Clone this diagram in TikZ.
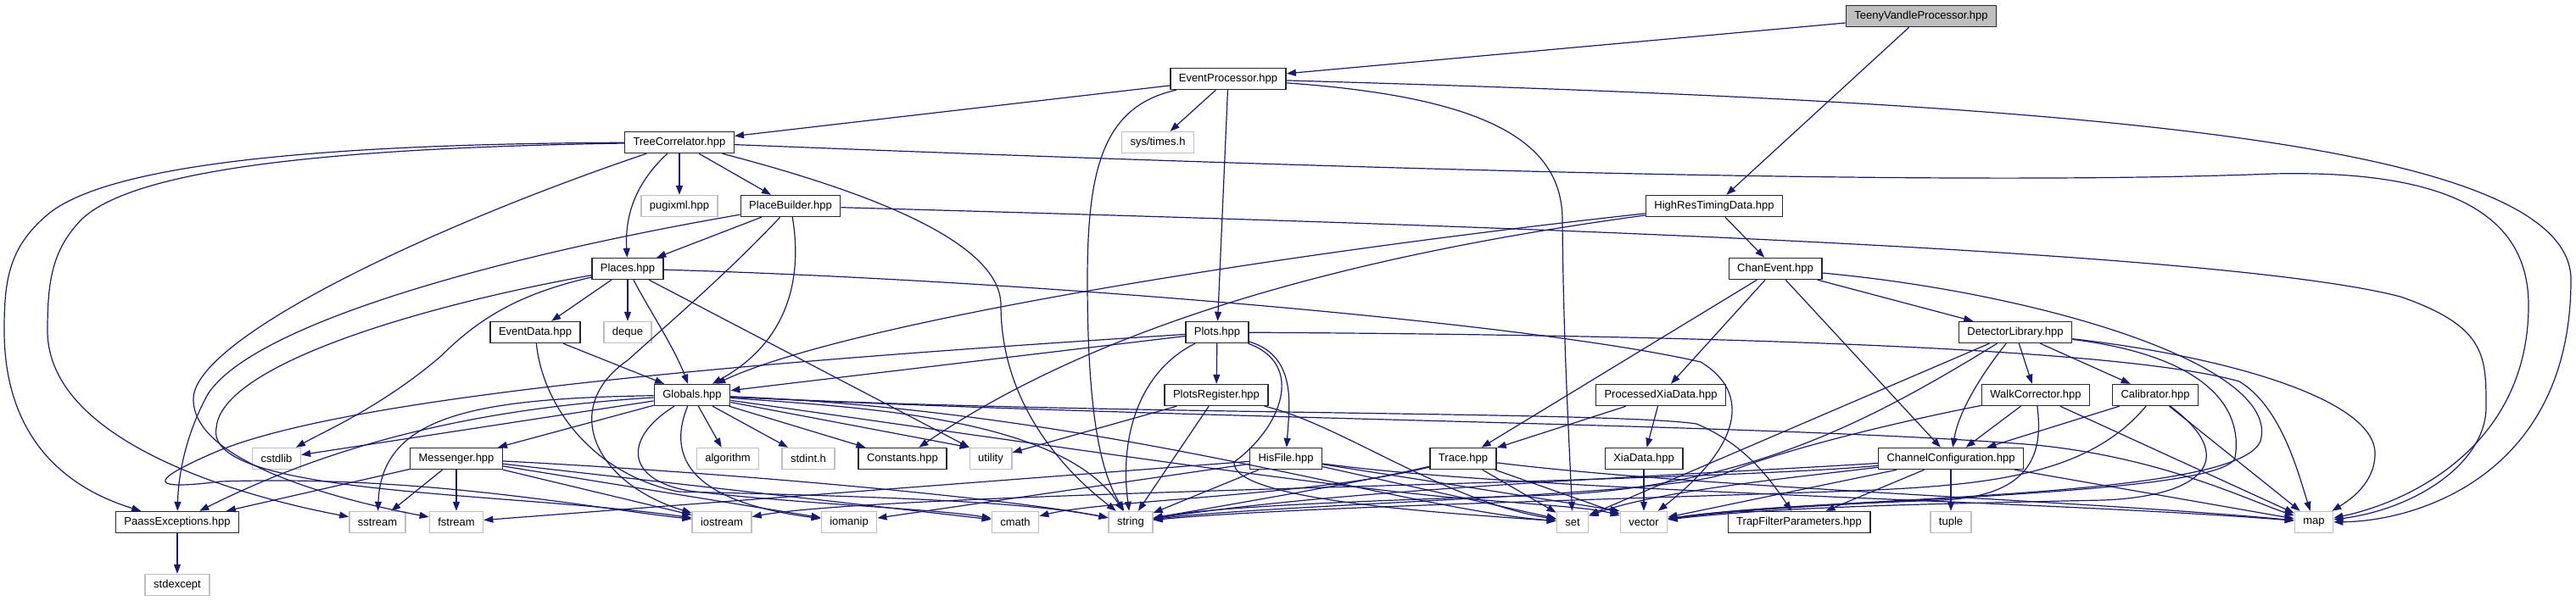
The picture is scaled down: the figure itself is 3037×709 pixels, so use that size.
\documentclass[tikz,border=0pt]{standalone}
\usepackage{fontspec}
\setmainfont{Liberation Sans}
\usetikzlibrary{arrows.meta}
\definecolor{doxBlue}{RGB}{25,25,112}
\definecolor{doxGrey}{RGB}{191,191,191}
\definecolor{doxDark}{RGB}{40,40,40}

\begin{document}
\begin{tikzpicture}[
    x=1pt, y=-1pt,
    hdr/.style={rectangle, draw=doxDark, fill=white, line width=1.4pt,
                minimum height=25pt, inner xsep=10pt, inner ysep=0pt,
                font={\fontsize{13}{15}\selectfont}},
    syshdr/.style={hdr, draw=doxGrey},
    mainhdr/.style={hdr, fill=doxGrey},
    dep/.style={-{Triangle[length=11pt, width=8pt]}, doxBlue, line width=1.2pt}
  ]
  \useasboundingbox (0,0) rectangle (3037,709);

  % headers, one row per include depth
  \node[mainhdr] (teeny)    at (2265,19)  {TeenyVandleProcessor.hpp};
  \node[hdr]     (evproc)   at (1448,93)  {EventProcessor.hpp};
  \node[hdr]     (treecorr) at (801,168)  {TreeCorrelator.hpp};
  \node[syshdr]  (systimes) at (1365,168) {sys/times.h};
  \node[syshdr]  (pugixml)  at (801,243)  {pugixml.hpp};
  \node[hdr]     (placebld) at (932,243)  {PlaceBuilder.hpp};
  \node[hdr]     (hrtd)     at (2021,243) {HighResTimingData.hpp};
  \node[hdr]     (places)   at (740,317)  {Places.hpp};
  \node[hdr]     (chanev)   at (2093,317) {ChanEvent.hpp};
  \node[hdr]     (evdata)   at (631,392)  {EventData.hpp};
  \node[syshdr]  (deque)    at (740,392)  {deque};
  \node[hdr]     (plots)    at (1435,392) {Plots.hpp};
  \node[hdr]     (detlib)   at (2376,392) {DetectorLibrary.hpp};
  \node[hdr]     (globals)  at (816,466)  {Globals.hpp};
  \node[hdr]     (plotsreg) at (1434,466) {PlotsRegister.hpp};
  \node[hdr]     (procxia)  at (1958,466) {ProcessedXiaData.hpp};
  \node[hdr]     (walkcorr) at (2400,466) {WalkCorrector.hpp};
  \node[hdr]     (calib)    at (2541,466) {Calibrator.hpp};
  \node[syshdr]  (cstdlib)  at (326,541)  {cstdlib};
  \node[hdr]     (messenger) at (538,541) {Messenger.hpp};
  \node[syshdr]  (algorithm) at (858,541) {algorithm};
  \node[syshdr]  (stdint)   at (953,541)  {stdint.h};
  \node[hdr]     (constants) at (1064,541) {Constants.hpp};
  \node[syshdr]  (utility)  at (1168,541) {utility};
  \node[hdr]     (hisfile)  at (1516,541) {HisFile.hpp};
  \node[hdr]     (trace)    at (1725,541) {Trace.hpp};
  \node[hdr]     (xiadata)  at (1938,541) {XiaData.hpp};
  \node[hdr]     (chanconf) at (2300,541) {ChannelConfiguration.hpp};
  \node[hdr]     (paassexc) at (209,616)  {PaassExceptions.hpp};
  \node[syshdr]  (sstream)  at (445,616)  {sstream};
  \node[syshdr]  (fstream)  at (538,616)  {fstream};
  \node[syshdr]  (iostream) at (851,616)  {iostream};
  \node[syshdr]  (iomanip)  at (1001,616) {iomanip};
  \node[syshdr]  (cmath)    at (1197,616) {cmath};
  \node[syshdr]  (string)   at (1333,616) {string};
  \node[syshdr]  (set)      at (1854,616) {set};
  \node[syshdr]  (vector)   at (1938,616) {vector};
  \node[hdr]     (trapfilt) at (2121,616) {TrapFilterParameters.hpp};
  \node[syshdr]  (tuple)    at (2300,616) {tuple};
  \node[syshdr]  (map)      at (2728,616) {map};
  \node[syshdr]  (stdexcept) at (209,690) {stdexcept};

  % TeenyVandleProcessor
  \draw[dep] (teeny) -- (evproc);
  \draw[dep] (teeny) -- (hrtd);

  % EventProcessor
  \draw[dep] (evproc) -- (treecorr);
  \draw[dep] (evproc) -- (systimes);
  \draw[dep] (evproc) -- (plots);
  \draw[dep] (evproc) .. controls (1300,125) and (1282,200) .. (1282,330) .. controls (1282,500) and (1300,560) .. (string);
  \draw[dep] (evproc) .. controls (1760,115) and (1842,170) .. (1842,260) .. controls (1843,400) and (1850,520) .. (set);
  \draw[dep] (evproc) .. controls (2400,120) and (3031,160) .. (3031,330) .. controls (3031,560) and (2850,615) .. (map);

  % TreeCorrelator
  \draw[dep] (treecorr) -- (pugixml);
  \draw[dep] (treecorr) -- (placebld);
  \draw[dep] (treecorr) .. controls (745,220) and (737,260) .. (places);
  \draw[dep] (treecorr) .. controls (300,170) and (120,205) .. (60,250) .. controls (10,290) and (5,330) .. (5,390) .. controls (5,500) and (60,570) .. (paassexc);
  \draw[dep] (treecorr) .. controls (350,175) and (150,205) .. (95,260) .. controls (62,295) and (56,330) .. (56,390) .. controls (56,520) and (280,585) .. (sstream);
  \draw[dep] (treecorr) .. controls (500,270) and (230,400) .. (228,470) .. controls (226,545) and (400,590) .. (fstream);
  \draw[dep] (treecorr) .. controls (1000,220) and (1180,280) .. (1180,360) .. controls (1180,480) and (1260,560) .. (string);
  \draw[dep] (treecorr) .. controls (1600,200) and (2300,220) .. (2680,205) .. controls (2900,200) and (2981,260) .. (2981,360) .. controls (2981,520) and (2850,590) .. (map);

  % PlaceBuilder
  \draw[dep] (placebld) -- (places);
  \draw[dep] (placebld) .. controls (945,320) and (935,400) .. (globals);
  \draw[dep] (placebld) .. controls (600,300) and (300,380) .. (245,465) .. controls (215,520) and (210,570) .. (paassexc);
  \draw[dep] (placebld) .. controls (860,320) and (790,380) .. (740,425) .. controls (660,480) and (700,570) .. (iostream);
  \draw[dep] (placebld) .. controls (1600,262) and (2600,290) .. (2830,350) .. controls (2931,385) and (2931,420) .. (2931,480) .. controls (2931,545) and (2850,600) .. (map);

  % Places
  \draw[dep] (places) -- (evdata);
  \draw[dep] (places) -- (deque);
  \draw[dep] (places) .. controls (765,365) and (795,410) .. (globals);
  \draw[dep] (places) .. controls (620,345) and (570,370) .. (520,420) .. controls (450,480) and (380,510) .. (cstdlib);
  \draw[dep] (places) -- (utility);
  \draw[dep] (places) .. controls (1200,330) and (1800,380) .. (2005,427) .. controls (2060,460) and (2060,520) .. (vector);
  \draw[dep] (places) .. controls (500,360) and (260,430) .. (255,505) .. controls (240,585) and (600,580) .. (iostream);

  % EventData
  \draw[dep] (evdata) -- (globals);
  \draw[dep] (evdata) .. controls (640,480) and (700,560) .. (800,580) .. controls (1000,585) and (1200,590) .. (string);

  % Globals
  \draw[dep] (globals) -- (cstdlib);
  \draw[dep] (globals) -- (messenger);
  \draw[dep] (globals) .. controls (600,480) and (420,510) .. (paassexc);
  \draw[dep] (globals) .. controls (560,470) and (450,490) .. (sstream);
  \draw[dep] (globals) -- (algorithm);
  \draw[dep] (globals) -- (stdint);
  \draw[dep] (globals) -- (constants);
  \draw[dep] (globals) -- (utility.north west);
  \draw[dep] (globals) .. controls (790,530) and (800,590) .. (iomanip);
  \draw[dep] (globals) .. controls (730,520) and (740,570) .. (820,580) .. controls (950,595) and (1100,600) .. (cmath);
  \draw[dep] (globals) .. controls (1000,480) and (1250,490) .. (string);
  \draw[dep] (globals) .. controls (1300,485) and (1650,600) .. (set);
  \draw[dep] (globals) .. controls (1200,520) and (1600,580) .. (1750,590) .. controls (1850,598) and (1880,600) .. (vector);
  \draw[dep] (globals) .. controls (1300,490) and (1900,485) .. (2000,500) .. controls (2060,525) and (2090,570) .. (trapfilt);
  \draw[dep] (globals) .. controls (1400,495) and (2100,500) .. (2400,525) .. controls (2550,540) and (2650,590) .. (map);

  % Messenger
  \draw[dep] (messenger) -- (paassexc);
  \draw[dep] (messenger) -- (sstream);
  \draw[dep] (messenger) -- (fstream);
  \draw[dep] (messenger) -- (iostream);
  \draw[dep] (messenger) -- (iomanip);
  \draw[dep] (messenger) -- (cmath);
  \draw[dep] (messenger) .. controls (900,560) and (1200,590) .. (string);

  % HighResTimingData
  \draw[dep] (hrtd) -- (chanev);
  \draw[dep] (hrtd) .. controls (1500,300) and (1000,380) .. (globals);
  \draw[dep] (hrtd) .. controls (1600,300) and (1300,380) .. (constants);

  % ChanEvent
  \draw[dep] (chanev) -- (detlib);
  \draw[dep] (chanev) -- (procxia);
  \draw[dep] (chanev) -- (trace);
  \draw[dep] (chanev) -- (chanconf);
  \draw[dep] (chanev) .. controls (2400,345) and (2690,430) .. (2665,520) .. controls (2640,590) and (2150,585) .. (vector);

  % DetectorLibrary
  \draw[dep] (detlib) -- (walkcorr);
  \draw[dep] (detlib) -- (calib);
  \draw[dep] (detlib) .. controls (2345,430) and (2310,480) .. (chanconf);
  \draw[dep] (detlib) .. controls (2620,420) and (2800,470) .. (2800,535) .. controls (2800,570) and (2770,590) .. (map);
  \draw[dep] (detlib) .. controls (2600,420) and (2645,480) .. (2635,540) .. controls (2620,585) and (2150,588) .. (vector);
  \draw[dep] (detlib) -- (set);
  \draw[dep] (detlib) .. controls (2200,500) and (2050,580) .. (1800,585) .. controls (1550,592) and (1420,600) .. (string);

  % WalkCorrector
  \draw[dep] (walkcorr) -- (chanconf);
  \draw[dep] (walkcorr) -- (map);
  \draw[dep] (walkcorr) .. controls (2410,540) and (2390,585) .. (2290,590) .. controls (2150,595) and (2050,600) .. (vector);
  \draw[dep] (walkcorr) .. controls (2250,495) and (2100,530) .. (2030,560) .. controls (1950,585) and (1500,595) .. (string);

  % Calibrator
  \draw[dep] (calib) -- (chanconf);
  \draw[dep] (calib) -- (map);
  \draw[dep] (calib) .. controls (2640,540) and (2600,585) .. (2480,590) .. controls (2250,595) and (2100,598) .. (vector);
  \draw[dep] (calib) .. controls (2450,575) and (2300,575) .. (2100,582) .. controls (1800,592) and (1500,600) .. (string);

  % ChannelConfiguration
  \draw[dep] (chanconf) -- (tuple);
  \draw[dep] (chanconf) -- (trapfilt);
  \draw[dep] (chanconf) -- (map);
  \draw[dep] (chanconf) -- (vector);
  \draw[dep] (chanconf) .. controls (2000,560) and (1600,575) .. (string);
  \draw[dep] (chanconf) .. controls (2100,565) and (1950,580) .. (set);
  \draw[dep] (chanconf) .. controls (2000,570) and (1050,580) .. (iostream);

  % Trace, HisFile, PlotsRegister
  \draw[dep] (trace) -- (set);
  \draw[dep] (trace) -- (vector);
  \draw[dep] (trace) .. controls (1600,570) and (1450,595) .. (string);
  \draw[dep] (trace) .. controls (1550,585) and (1300,590) .. (cmath);
  \draw[dep] (trace) .. controls (2000,575) and (2450,590) .. (map);
  \draw[dep] (hisfile) -- (fstream);
  \draw[dep] (hisfile) -- (iomanip);
  \draw[dep] (hisfile) -- (string);
  \draw[dep] (hisfile) -- (set);
  \draw[dep] (hisfile) -- (vector.north west);
  \draw[dep] (hisfile) .. controls (1800,580) and (2400,590) .. (map);
  \draw[dep] (plotsreg) -- (utility);
  \draw[dep] (plotsreg) -- (string);
  \draw[dep] (plotsreg) .. controls (1580,500) and (1700,590) .. (set);

  % Plots
  \draw[dep] (plots) -- (plotsreg);
  \draw[dep] (plots) .. controls (1530,420) and (1520,480) .. (hisfile);
  \draw[dep] (plots) -- (globals);
  \draw[dep] (plots) .. controls (1340,440) and (1320,520) .. (string);
  \draw[dep] (plots) .. controls (1540,430) and (1510,505) .. (1455,545) .. controls (1450,590) and (1700,605) .. (set);
  \draw[dep] (plots) .. controls (2000,395) and (2500,410) .. (2640,450) .. controls (2690,480) and (2710,560) .. (map);
  \draw[dep] (plots) .. controls (1000,420) and (420,460) .. (250,535) .. controls (170,570) and (180,578) .. (260,568) .. controls (500,560) and (700,600) .. (iostream);

  % the rest
  \draw[dep] (procxia) -- (xiadata);
  \draw[dep] (procxia) -- (trace);
  \draw[dep] (xiadata) -- (vector);
  \draw[dep] (paassexc) -- (stdexcept);
\end{tikzpicture}
\end{document}
